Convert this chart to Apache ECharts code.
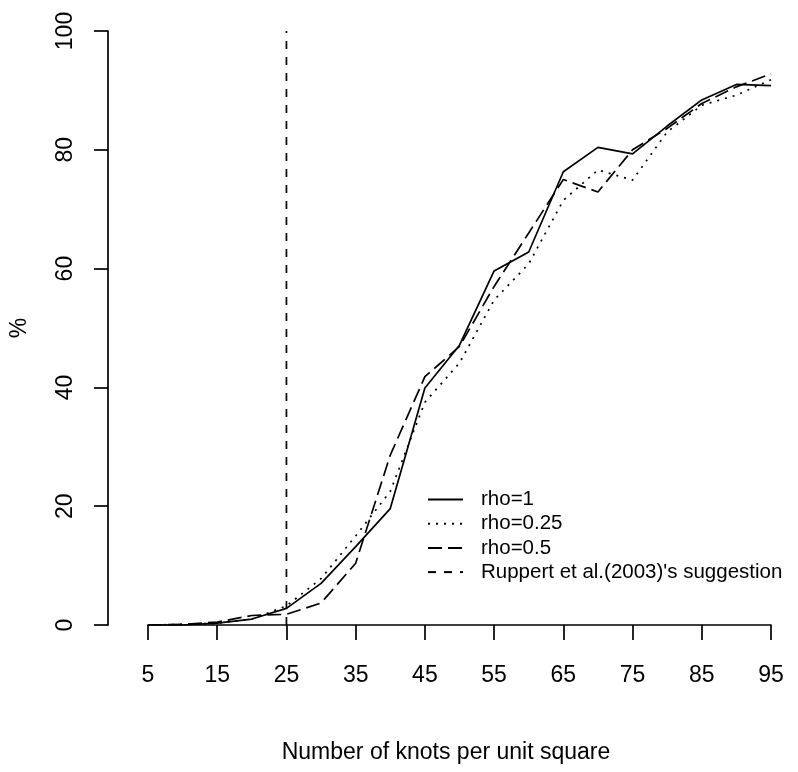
<!DOCTYPE html>
<html>
<head>
<meta charset="utf-8">
<script src="https://cdn.jsdelivr.net/npm/echarts@6/dist/echarts.min.js"></script>
<style>html,body{margin:0;padding:0;background:#fff;}#c{width:798px;height:772px;}</style>
</head>
<body>
<div id="c"></div>
<script>
var knots = [5,10,15,20,25,30,35,40,45,50,55,60,65,70,75,80,85,90,95];
var rho1   = [0,0,0.3,1.0,2.8,7.0,13.2,19.6,39.9,47.1,59.6,62.8,76.3,80.4,79.3,84.0,88.4,91.0,90.8];
var rho025 = [0,0.1,0.3,1.0,3.2,7.8,15.0,22.5,37.5,44.1,54.7,60.8,71.5,76.6,74.9,83.0,87.5,89.2,91.8];
var rho05  = [0,0.1,0.5,1.6,1.8,3.7,10.4,28.6,41.8,46.9,57.0,66.0,75.0,72.9,80.0,83.6,87.8,90.6,92.8];
var suggestionX = [25,25];
var suggestionY = [0,100];
var xTicks = [5,15,25,35,45,55,65,75,85,95];
var yTicks = [0,20,40,60,80,100];
var names = ["rho=1","rho=0.25","rho=0.5","Ruppert et al.(2003)'s suggestion"];

function pairs(xs, ys){ return xs.map(function(x,i){ return [x, ys[i]]; }); }

var FONT = 'Liberation Sans, Arial, sans-serif';
var chart = echarts.init(document.getElementById('c'), null, {renderer:'canvas'});
function mk(name, data, type){
  return {name:name, type:'line', data:data, symbol:'none', animation:false,
    lineStyle:{color:'#000', width:1.7, type:type}, itemStyle:{color:'#000'}};
}
chart.setOption({
  backgroundColor:'#fff',
  animation:false,
  grid:{left:148, top:31, width:623, height:594, containLabel:false, outerBoundsMode:'none'},
  xAxis:{type:'value', min:5, max:95, interval:10,
    name:'Number of knots per unit square', nameLocation:'middle', nameGap:116,
    nameTextStyle:{fontFamily:FONT, fontSize:23, color:'#000', padding:[0,27,0,0]},
    axisLine:{show:true, lineStyle:{color:'#000', width:1.7}},
    axisTick:{show:true, length:15, lineStyle:{color:'#000', width:1.7}},
    axisLabel:{margin:39, fontFamily:FONT, fontSize:23, color:'#000',
      formatter:function(v){ return xTicks.indexOf(v)>=0 ? String(v) : ''; }},
    splitLine:{show:false}},
  yAxis:{type:'value', min:0, max:100, interval:20, offset:40,
    name:'%', nameLocation:'middle', nameGap:77, nameRotate:90,
    nameTextStyle:{fontFamily:FONT, fontSize:23, color:'#000'},
    axisLine:{show:true, lineStyle:{color:'#000', width:1.7}},
    axisTick:{show:true, length:14, lineStyle:{color:'#000', width:1.7}},
    axisLabel:{rotate:90, margin:31, fontFamily:FONT, fontSize:23, color:'#000',
      formatter:function(v){ return yTicks.indexOf(v)>=0 ? String(v) : ''; }},
    splitLine:{show:false}},
  legend:{orient:'vertical', left:427, top:489, padding:0, itemWidth:35, itemHeight:10, itemGap:3.2,
    data:names, itemStyle:{opacity:0},
    textStyle:{fontFamily:FONT, fontSize:20.5, lineHeight:20, color:'#000', padding:[0,0,0,13]}},
  series:[
    mk(names[0], pairs(knots, rho1), 'solid'),
    mk(names[1], pairs(knots, rho025), [2,6]),
    mk(names[2], pairs(knots, rho05), [14,6]),
    mk(names[3], pairs(suggestionX, suggestionY), [8,8])
  ]
});
</script>
</body>
</html>
